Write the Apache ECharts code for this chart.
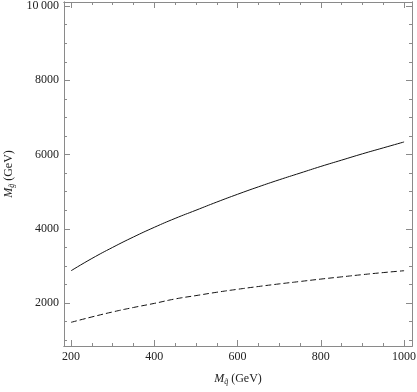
<!DOCTYPE html>
<html>
<head>
<meta charset="utf-8">
<script src="https://cdn.jsdelivr.net/npm/echarts@6/dist/echarts.min.js"></script>
<style>
  html, body { margin: 0; padding: 0; background: #fff; }
  #main { width: 417px; height: 392px; }
</style>
</head>
<body>
<div id="main"></div>
<script>
const squarkMass = [200, 250, 300, 350, 400, 450, 500, 550, 600, 650, 700, 750, 800, 850, 900, 950, 1000];
const solidValues = [2870, 3200, 3500, 3780, 4040, 4280, 4500, 4720, 4930, 5130, 5320, 5500, 5680, 5850, 6020, 6180, 6340];
const dashedValues = [1480, 1625, 1760, 1880, 1990, 2110, 2200, 2290, 2370, 2445, 2515, 2580, 2645, 2705, 2765, 2820, 2870];
const xMajorTicks = [200, 400, 600, 800, 1000];
const xMinorTicks = [250, 300, 350, 450, 500, 550, 650, 700, 750, 850, 900, 950];
const yMajorTicks = [2000, 4000, 6000, 8000, 10000];
const yMinorTicks = [1000, 1500, 2500, 3000, 3500, 4500, 5000, 5500, 6500, 7000, 7500, 8500, 9000, 9500];

const font = "Liberation Serif";
const frameColor = "#8a8a8a";
const xMin = 183, xMax = 1019;
const yMin = 842, yMax = 10110;

function fmt(v) {
  return v >= 10000 ? String(v).replace(/(\d)(\d{3})$/, "$1\u2009$2") : String(v);
}

function tickAxis(position, ticks, len, withLabels, extra) {
  return Object.assign({
    type: "value",
    position: position,
    gridIndex: 0,
    axisLine: { show: true, lineStyle: { color: frameColor, width: 1 } },
    axisTick: {
      show: true, inside: true, length: len, customValues: ticks,
      lineStyle: { color: frameColor, width: 1 }
    },
    axisLabel: {
      show: withLabels, customValues: ticks, formatter: fmt,
      fontFamily: font, fontSize: 12, color: "#222", margin: 5
    },
    splitLine: { show: false }
  }, extra);
}

function buildOption() {
  const xr = { min: xMin, max: xMax };
  const yr = { min: yMin, max: yMax };
  const nameRich = {
    m: { fontFamily: font, fontStyle: "italic", fontSize: 12, color: "#222" },
    s: { fontFamily: font, fontStyle: "italic", fontSize: 8, color: "#222", padding: [6, 0, 0, 0] },
    n: { fontFamily: font, fontSize: 12, color: "#222" }
  };
  return {
    animation: false,
    grid: { left: 64, right: 5, top: 2, bottom: 46, containLabel: false, outerBoundsMode: "none" },
    xAxis: [
      tickAxis("bottom", xMajorTicks, 6, true, Object.assign({
        name: "{m|M}{s|q\u0303}{n| (GeV)}",
        nameLocation: "middle", nameGap: 26,
        nameTextStyle: { rich: nameRich }
      }, xr)),
      tickAxis("bottom", xMinorTicks, 3, false, xr),
      tickAxis("top", xMajorTicks, 6, false, xr),
      tickAxis("top", xMinorTicks, 3, false, xr)
    ],
    yAxis: [
      tickAxis("left", yMajorTicks, 6, true, Object.assign({
        name: "{m|M}{s|g\u0303}{n| (GeV)}",
        nameLocation: "middle", nameGap: 47, nameRotate: 90,
        nameTextStyle: { rich: nameRich }
      }, yr)),
      tickAxis("left", yMinorTicks, 3, false, yr),
      tickAxis("right", yMajorTicks, 6, false, yr),
      tickAxis("right", yMinorTicks, 3, false, yr)
    ],
    series: [
      {
        type: "line",
        data: squarkMass.map((x, i) => [x, solidValues[i]]),
        showSymbol: false, smooth: true,
        lineStyle: { color: "#111", width: 1 }
      },
      {
        type: "line",
        data: squarkMass.map((x, i) => [x, dashedValues[i]]),
        showSymbol: false, smooth: true,
        lineStyle: { color: "#111", width: 1, type: [6, 3] }
      }
    ]
  };
}

const chart = echarts.init(document.getElementById("main"));
chart.setOption(buildOption());
</script>
</body>
</html>
